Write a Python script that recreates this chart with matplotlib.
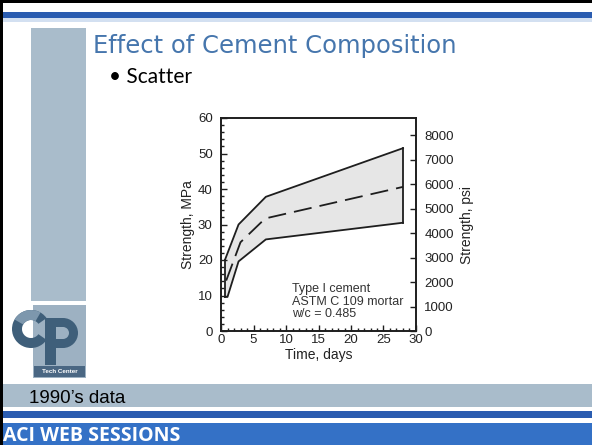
import matplotlib
matplotlib.use("Agg")
import matplotlib.pyplot as plt
from matplotlib.patches import Rectangle, Wedge
from matplotlib.ticker import MultipleLocator

# Compressive strength envelope of Type I cement mortars (MPa) vs age (days)
upper_days = [0.6, 2.7, 6.9, 28.0]
upper_mpa = [20.0, 30.0, 37.8, 51.5]
lower_days = [0.6, 1.0, 2.7, 6.9, 28.0]
lower_mpa = [9.6, 9.6, 19.6, 25.8, 30.5]
mean_days = [0.8, 3.0, 6.8, 28.0]
mean_mpa = [14.2, 25.0, 31.7, 40.6]

x_ticks = [0, 5, 10, 15, 20, 25, 30]
mpa_ticks = [0, 10, 20, 30, 40, 50, 60]
psi_ticks = [0, 1000, 2000, 3000, 4000, 5000, 6000, 7000, 8000]
MPA_TO_PSI = 145.04

title = "Effect of Cement Composition"
bullet = "\u2022 Scatter"
note = "Type I cement\nASTM C 109 mortar\nw/c = 0.485"
footer = "1990\u2019s data"
banner = "ACI WEB SESSIONS"

W, H = 592, 445
fig = plt.figure(figsize=(W / 100, H / 100), dpi=100)
fig.patch.set_facecolor("white")

# slide decoration layer in pixel coordinates
deco = fig.add_axes([0, 0, 1, 1], zorder=0)
deco.set_xlim(0, W)
deco.set_ylim(H, 0)
deco.axis("off")

slate = "#a9bccb"
blue = "#3471c6"
dark_blue = "#2a5cb0"

def rect(x0, y0, x1, y1, color, z=1):
    deco.add_patch(Rectangle((x0, y0), x1 - x0, y1 - y0, facecolor=color,
                             edgecolor="none", zorder=z))

rect(0, 0, W, 3, "black", 5)
rect(0, 0, 3, H, "black", 5)
rect(3, 12, W, 18, dark_blue)
rect(3, 18, W, 22, "#d3e0f1")
rect(31, 28, 86, 301, slate)
rect(3, 384, W, 407, slate)
rect(3, 411, W, 418, dark_blue)
rect(3, 423, W, H, blue)

# CP Tech Center logo
rect(33, 305, 86, 378, "#9db1c2")
deco.add_patch(Wedge((31, 329), 19, 35, 325, width=10, facecolor="#3f5f7a",
                     edgecolor="none", zorder=3))
deco.add_patch(Wedge((31, 329), 19, 210, 300, width=10, facecolor="#7d97ad",
                     edgecolor="none", zorder=3))
rect(45, 318, 56, 365, "#3f5f7a", 3)
deco.add_patch(Wedge((63, 333), 15, -90, 90, width=9, facecolor="#3f5f7a",
                     edgecolor="none", zorder=3))
rect(50, 318, 63, 327, "#3f5f7a", 3)
rect(50, 339, 63, 348, "#3f5f7a", 3)
rect(34, 366, 85, 377, "#4a6783", 4)
deco.text(59.5, 371.5, "Tech Center", color="white", fontsize=4.5,
          fontweight="bold", ha="center", va="center", zorder=5,
          family="Liberation Sans")

deco.text(93, 53, title, color="#4676ad", fontsize=17.5, family="DejaVu Sans",
          ha="left", va="baseline")
deco.text(109, 83, bullet, color="black", fontsize=15, family="Lato",
          ha="left", va="baseline")
deco.text(29, 403, footer, color="black", fontsize=13.5,
          family="Liberation Sans", ha="left", va="baseline")
deco.text(3, 441, banner, color="white", fontsize=14, family="Open Sans",
          fontweight="bold", ha="left", va="baseline")

# strength chart
plt.rcParams["font.family"] = ["Liberation Sans", "DejaVu Sans"]
ink = "#1e1e1e"
ax = fig.add_axes([221 / W, 1 - 331 / H, 195 / W, 213 / H], zorder=2)
ax.patch.set_alpha(0)

env_x = upper_days + lower_days[::-1]
env_y = upper_mpa + lower_mpa[::-1]
ax.fill(env_x, env_y, facecolor="#e6e6e6", edgecolor="none", zorder=1)
ax.plot(upper_days, upper_mpa, color=ink, lw=1.3, zorder=3)
ax.plot(lower_days, lower_mpa, color=ink, lw=1.3, zorder=3)
ax.plot([upper_days[0], lower_days[0]], [upper_mpa[0], lower_mpa[0]],
        color=ink, lw=1.3, zorder=3)
ax.plot([upper_days[-1], lower_days[-1]], [upper_mpa[-1], lower_mpa[-1]],
        color=ink, lw=1.3, zorder=3)
ax.plot(mean_days, mean_mpa, color=ink, lw=1.3, dashes=(10, 4.5), zorder=3)

ax.set_xlim(0, 30)
ax.set_ylim(0, 60)
ax.set_xticks(x_ticks)
ax.set_yticks(mpa_ticks)
ax.xaxis.set_minor_locator(MultipleLocator(1))
ax.yaxis.set_minor_locator(MultipleLocator(2))
ax.tick_params(which="both", direction="in", colors=ink, labelcolor="#222",
               labelsize=9.5, top=False, right=False, width=1.0)
ax.tick_params(which="major", length=4.5)
ax.tick_params(which="minor", length=2.5)
ax.tick_params(axis="y", pad=6)
ax.tick_params(axis="x", pad=2.5)
for s in ax.spines.values():
    s.set_color(ink)
    s.set_linewidth(1.4)
ax.set_xlabel("Time, days", fontsize=10, color="#222", labelpad=1)
ax.set_ylabel("Strength, MPa", fontsize=10, color="#222", labelpad=2)

ax.text(10.9, 3.0, note, fontsize=9, color="#333", ha="left", va="bottom",
        linespacing=1.05)

ax2 = ax.twinx()
ax2.set_ylim(0, 60 * MPA_TO_PSI)
ax2.set_yticks(psi_ticks)
ax2.tick_params(direction="in", length=4.5, width=1.0, colors=ink,
                labelcolor="#222", labelsize=9.5, pad=6)
for s in ax2.spines.values():
    s.set_visible(False)
ax2.set_ylabel("Strength, psi", fontsize=10, color="#222", rotation=90,
               labelpad=4)

fig.savefig("out.png", dpi=100)
